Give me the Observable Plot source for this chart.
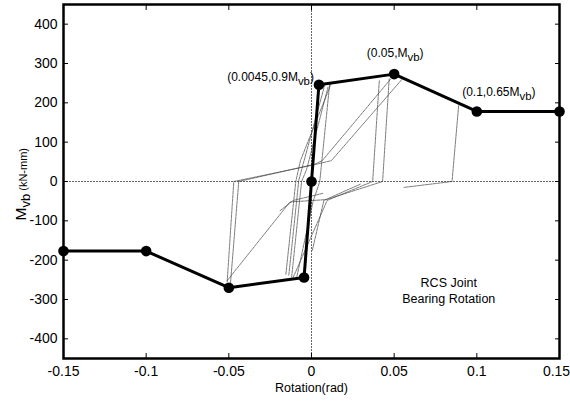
<!DOCTYPE html>
<html><head><meta charset="utf-8">
<script src="https://cdn.jsdelivr.net/npm/d3@7"></script>
<script src="https://cdn.jsdelivr.net/npm/@observablehq/plot@0.6"></script>
<style>
body{margin:0;background:#fff}
#chart svg{font-family:"Liberation Sans",Arial,Helvetica,sans-serif;background:#fff}
</style>
</head><body><div id="chart"></div>
<script>
// Backbone (bold) curve
const backboneX = [-0.15, -0.1, -0.05, -0.0045, 0, 0.0045, 0.05, 0.1, 0.15];
const backboneY = [-177, -177, -270, -244, 0, 246, 273, 178, 178];

// Thin hysteresis traces, [rotation, moment]
const loopA = [[0.047,261],[0.043,0],[0.009,-46],[-0.013,-52],[-0.051,-252]];
const loopB = [[0.041,256],[0.037,0],[0.0095,-48],[-0.011,-243]];
const loopC = [[-0.051,-255],[-0.047,0],[0,41],[0.012,53],[0.055,261]];
const loopD = [[-0.049,-259],[-0.044,0],[0.002,44],[0.0065,53],[0.048,261]];
const loopE = [[0.089,193],[0.085,0],[0.056,-15]];
const loopF = [[-0.0137,-238],[-0.0077,3],[-0.005,45],[0.008,245]];
const loopG = [[0.011,248],[0.005,0],[0.001,-50],[-0.009,-245]];
const loopH = [[-0.012,-243],[-0.006,0],[-0.003,30],[0.01,240]];
const loopI = [[-0.0155,-236],[-0.0095,0],[-0.0067,53],[0.012,250]];
const loopJ = [[0.0005,-175],[0.0075,-48],[0.03,-6]];
const loopK = [[-0.019,-74],[-0.011,-48],[0.007,-30]];

// Annotations
const annX = [0.0045, 0.05, 0.1];
const annY = [246, 273, 178];
const annText = ["(0.0045,0.9M_vb)", "(0.05,M_vb)", "(0.1,0.65M_vb)"];
const noteText = ["RCS Joint\nBearing Rotation"];
const noteX = [0.083];
const noteY = [-275];

// Axes
const xTicks = [-0.15, -0.1, -0.05, 0, 0.05, 0.1, 0.15];
const xTickLabels = ["-0.15", "-0.1", "-0.05", "0", "0.05", "0.1", "0.15"];
const yTicks = [-400, -300, -200, -100, 0, 100, 200, 300, 400];
const yTickLabels = ["-400", "-300", "-200", "-100", "0", "100", "200", "300", "400"];
const xTitle = "Rotation(rad)";
const yTitle = "M_vb (kN-mm)";

const backbone = backboneX.map((x, i) => ({x, y: backboneY[i]}));
const loops = [loopA, loopB, loopC, loopD, loopE, loopF, loopG, loopH, loopI, loopJ, loopK]
  .flatMap((p, k) => p.map(([x, y]) => ({x, y, k})));
const ann = annX.map((x, i) => ({x, y: annY[i], t: annText[i]}));

const xf = d => xTickLabels[xTicks.indexOf(d)];
const yf = d => yTickLabels[yTicks.indexOf(d)];

const plot = Plot.plot({
  width: 570, height: 402,
  marginLeft: 63, marginRight: 11, marginTop: 4, marginBottom: 44,
  style: {fontSize: "13px", fontFamily: "Liberation Sans, Arial, sans-serif", color: "#000", background: "#fff"},
  x: {domain: [-0.15, 0.15]},
  y: {domain: [-450, 450]},
  marks: [
    Plot.ruleY([0], {stroke: "#555", strokeWidth: 0.9, strokeDasharray: "2,1"}),
    Plot.ruleX([0], {stroke: "#555", strokeWidth: 0.9, strokeDasharray: "2,1"}),
    Plot.line(loops, {x: "x", y: "y", z: "k", stroke: "#444", strokeWidth: 0.7, strokeDasharray: "3,1"}),
    Plot.line(backbone, {x: "x", y: "y", stroke: "#000", strokeWidth: 3}),
    Plot.dot(backbone, {x: "x", y: "y", r: 5.3, fill: "#000"}),
    Plot.axisX({anchor: "bottom", ticks: xTicks, tickSize: 0, tickPadding: 8, tickFormat: xf, label: null}),
    Plot.axisY({anchor: "left", ticks: yTicks, tickSize: 0, tickPadding: 6, tickFormat: yf, label: null}),
    Plot.axisX({anchor: "bottom", ticks: xTicks, tickSize: -5, fill: "none", label: null}),
    Plot.axisX({anchor: "top", ticks: xTicks, tickSize: -5, fill: "none", label: null}),
    Plot.axisY({anchor: "left", ticks: yTicks, tickSize: -5, fill: "none", label: null}),
    Plot.axisY({anchor: "right", ticks: yTicks, tickSize: -5, fill: "none", label: null}),
    Plot.frame({stroke: "#000", strokeWidth: 2.5}),
    Plot.text(ann.slice(0, 1), {x: "x", y: "y", text: "t", textAnchor: "end", dx: -5, dy: -8, fontSize: 12}),
    Plot.text(ann.slice(1, 2), {x: "x", y: "y", text: "t", textAnchor: "middle", dx: 1, dy: -21, fontSize: 12}),
    Plot.text(ann.slice(2, 3), {x: "x", y: "y", text: "t", textAnchor: "middle", dx: 22, dy: -19, fontSize: 12}),
    Plot.text(noteText, {x: () => noteX[0], y: () => noteY[0], text: d => d, textAnchor: "middle", fontSize: 12.5, lineHeight: 1.3}),
    Plot.text([xTitle], {frameAnchor: "bottom", text: d => d, dy: 33, fontSize: 12.5}),
    Plot.text([yTitle], {frameAnchor: "left", text: d => d, rotate: -90, textAnchor: "start", dx: -42, dy: 39, fontSize: 15.5})
  ]
});

// Subscripts
d3.select(plot).selectAll("text").each(function () {
  const s = this.textContent;
  if (!s.includes("_vb")) return;
  const [a, b] = s.split("_vb");
  const t = d3.select(this);
  this.textContent = "";
  t.append("tspan").text(a);
  if (b.startsWith(")")) {
    t.append("tspan").attr("dy", 4).attr("font-size", "0.95em").text("vb");
    t.append("tspan").attr("dy", -4).text(b);
  } else {
    t.append("tspan").attr("dy", 4).attr("font-size", "13px").text("vb");
    t.append("tspan").attr("dy", -3).attr("font-size", "11px").text(b);
  }
});

// tick label size
d3.select(plot).selectAll('g[aria-label="x-axis tick label"] text, g[aria-label="y-axis tick label"] text')
  .style("font-size", "14px");

// keep the last x tick label inside the picture
d3.select(plot).selectAll('g[aria-label="x-axis tick label"] text')
  .filter(function () { return this.textContent === "0.15"; })
  .attr("dx", -3);

document.getElementById("chart").append(plot);
</script>
</body></html>
